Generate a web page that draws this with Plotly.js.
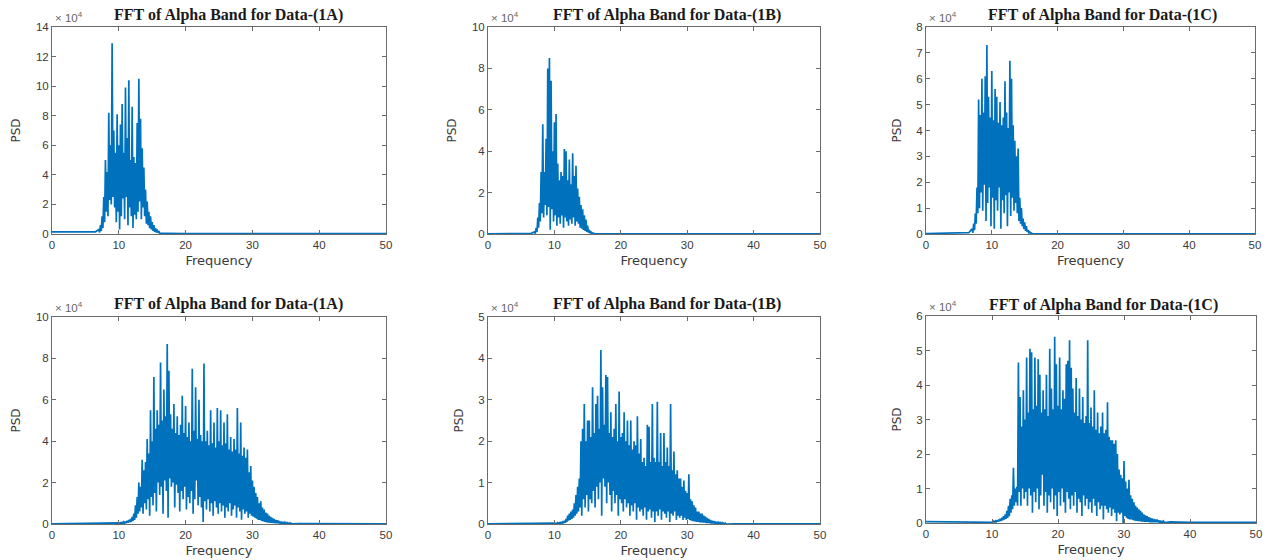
<!DOCTYPE html>
<html>
<head>
<meta charset="utf-8">
<script src="https://cdn.plot.ly/plotly-3.0.1.min.js"></script>
<style>html,body{margin:0;padding:0;background:#fff;}#chart{width:1273px;height:560px;}</style>
</head>
<body>
<div id="chart"></div>
<script>
// ---------- DATA (PSD values in units of 10^4) ----------
const panelTitles = ["FFT of Alpha Band for Data-(1A)", "FFT of Alpha Band for Data-(1B)", "FFT of Alpha Band for Data-(1C)",
                     "FFT of Alpha Band for Data-(1A)", "FFT of Alpha Band for Data-(1B)", "FFT of Alpha Band for Data-(1C)"];
const xLabel = "Frequency";
const yLabel = "PSD";
const yMax = [14, 10, 8, 10, 5, 6];
const yStep = [2, 2, 1, 2, 1, 1];
const xTicks = [0, 10, 20, 30, 40, 50];

// Frequency grid of the dense band: start (Hz) and bin step (Hz)
const topStart = 7.0, bottomStart = 10.0, binStep = 0.25;

// Top row (alpha band 7-16 Hz): peak (hi) and trough (lo) values per bin
const top1A_hi = [0.3,0.6,1.2,2.5,5.0,4.2,8.2,6.0,12.9,7.0,5.5,8.1,6.0,7.4,8.8,5.5,9.9,6.5,10.4,5.0,8.6,5.2,4.8,7.5,10.5,7.8,5.8,4.5,3.0,2.2,1.5,1.2,0.8,0.6,0.4,0.3,0.2];
const top1A_lo = [0.1,0.2,0.4,0.8,1.5,1.2,2.3,2.0,2.5,1.8,0.8,1.5,0.3,1.2,2.4,1.0,2.5,0.6,1.8,1.2,0.4,1.3,1.0,1.5,2.2,1.0,1.8,1.2,0.7,0.6,0.4,0.3,0.2,0.15,0.1,0.08,0.05];
const top1B_hi = [0.1,0.3,0.8,1.5,3.0,5.3,3.0,4.6,8.0,8.5,7.4,4.0,5.4,5.8,3.4,2.6,3.0,2.8,4.1,4.0,2.6,3.6,2.4,3.9,2.8,3.3,2.2,1.8,1.4,1.2,0.9,0.7,0.4,0.2,0.1,0.05,0.03];
const top1B_lo = [0.02,0.1,0.3,0.6,1.0,0.8,1.4,0.9,1.3,0.2,1.2,0.6,0.9,0.4,0.8,0.5,0.9,0.3,0.8,0.6,0.4,0.7,0.5,0.8,0.4,0.6,0.5,0.3,0.25,0.2,0.15,0.1,0.06,0.04,0.02,0.01,0.01];
const top1C_hi = [0.2,0.4,0.8,1.8,5.2,4.6,6.0,4.7,6.1,7.3,5.3,4.5,6.3,4.4,5.6,5.3,4.3,5.1,4.2,4.5,5.9,4.7,4.1,6.7,6.0,4.2,3.6,3.0,3.3,1.4,1.0,0.6,0.45,0.3,0.15,0.08,0.04];
const top1C_lo = [0.05,0.15,0.4,0.8,1.0,1.6,0.9,1.9,0.5,1.2,1.8,0.3,1.4,0.2,1.3,0.9,1.8,0.2,1.3,0.8,1.5,0.3,1.6,0.7,1.4,0.9,1.2,0.8,0.5,0.4,0.3,0.2,0.12,0.08,0.05,0.03,0.02];

// Bottom row (10-36 Hz)
const bot1A_hi = [0.05,0.06,0.08,0.1,0.12,0.15,0.2,0.25,0.35,0.5,0.9,1.3,2.0,1.8,3.1,2.6,3.0,4.1,3.4,5.5,4.0,7.1,4.6,5.5,4.8,7.8,5.0,6.5,5.2,8.7,7.4,5.3,4.6,5.8,4.4,5.2,4.3,4.8,6.2,4.4,5.7,4.2,4.9,4.0,7.5,4.5,6.6,4.1,6.0,4.3,4.0,7.75,4.0,4.5,3.8,5.5,3.9,4.9,3.7,5.6,4.0,5.5,3.8,4.9,3.9,5.3,3.6,4.2,3.5,4.1,3.6,5.6,3.4,4.9,3.3,3.7,3.2,3.6,2.5,2.8,2.1,1.8,1.5,1.3,1.0,1.1,0.8,0.7,0.55,0.5,0.4,0.35,0.3,0.25,0.2,0.18,0.15,0.12,0.1,0.08,0.07,0.06,0.05,0.04,0.03];
const bot1A_lo = [0.01,0.02,0.03,0.04,0.05,0.06,0.08,0.1,0.15,0.2,0.3,0.5,0.6,0.8,0.5,1.0,0.7,1.2,0.4,1.3,0.9,1.5,0.6,2.0,1.4,1.8,0.5,2.1,1.6,0.3,2.2,1.8,2.0,0.8,1.9,1.5,0.6,1.6,1.2,1.8,0.7,1.3,1.0,1.6,0.5,1.2,2.1,0.9,1.3,0.8,0.1,1.1,0.7,1.2,0.6,1.0,0.4,1.1,0.8,0.5,1.0,0.6,0.9,0.3,0.8,0.6,1.0,0.4,0.7,0.9,0.3,0.8,0.6,0.2,0.7,0.5,0.6,0.3,0.5,0.4,0.35,0.3,0.25,0.2,0.2,0.15,0.12,0.1,0.08,0.07,0.06,0.05,0.04,0.04,0.03,0.03,0.02,0.02,0.02,0.01,0.01,0.01,0.01,0.01,0.01];
const bot1B_hi = [0.02,0.02,0.03,0.03,0.04,0.05,0.08,0.12,0.2,0.25,0.3,0.35,0.5,0.7,0.9,1.1,2.0,2.3,2.9,2.0,2.5,2.5,2.1,3.3,2.2,2.9,3.1,2.3,4.2,3.3,2.4,3.6,3.55,2.2,2.7,2.1,2.3,2.9,2.0,3.2,2.1,2.2,2.7,2.0,2.5,1.9,2.5,1.8,2.0,1.9,2.6,1.7,2.05,1.5,1.6,1.4,2.4,2.35,1.5,2.9,1.6,1.5,2.95,1.5,2.2,1.4,2.2,1.5,1.85,1.4,2.9,1.3,1.75,1.2,1.3,1.1,1.1,0.9,1.05,0.8,0.75,1.2,0.6,0.55,0.45,0.4,0.3,0.3,0.25,0.25,0.2,0.18,0.15,0.12,0.1,0.08,0.07,0.06,0.05,0.04,0.03,0.03,0.02,0.02,0.01];
const bot1B_lo = [0.0,0.01,0.01,0.01,0.02,0.02,0.03,0.05,0.08,0.1,0.12,0.15,0.2,0.25,0.3,0.4,0.2,0.6,0.4,0.7,0.3,0.6,0.5,0.8,0.4,0.9,0.6,1.0,0.2,1.1,0.9,0.5,1.0,0.7,0.3,0.8,0.5,0.7,0.2,0.6,0.5,0.3,0.6,0.4,0.5,0.2,0.45,0.3,0.5,0.1,0.4,0.3,0.35,0.2,0.4,0.1,0.3,0.35,0.15,0.3,0.05,0.3,0.2,0.35,0.1,0.3,0.25,0.15,0.3,0.05,0.25,0.2,0.3,0.1,0.2,0.15,0.2,0.1,0.15,0.1,0.12,0.1,0.08,0.07,0.06,0.05,0.05,0.04,0.04,0.03,0.03,0.02,0.02,0.02,0.01,0.01,0.01,0.01,0.01,0.0,0.0,0.0,0.0,0.0,0.0];
const bot1C_hi = [0.04,0.05,0.06,0.08,0.1,0.12,0.15,0.2,0.25,0.35,0.5,0.7,0.8,1.6,1.0,1.05,4.65,3.65,2.8,3.85,3.0,4.8,3.2,5.05,4.95,3.3,4.8,3.4,4.75,4.3,3.2,3.85,3.3,4.3,3.1,5.05,3.9,3.3,5.4,4.6,3.4,4.8,3.3,3.85,3.6,4.6,4.7,5.3,4.5,3.9,3.2,4.2,3.1,3.9,3.0,3.65,2.9,3.1,5.3,2.9,3.35,2.8,3.85,2.7,3.2,2.6,2.8,3.2,2.6,2.7,3.5,2.5,2.4,2.4,2.3,2.4,2.0,1.55,1.4,1.3,1.8,1.2,1.0,1.25,0.8,0.7,0.6,0.5,0.45,0.4,0.35,0.3,0.25,0.22,0.2,0.17,0.15,0.13,0.12,0.1,0.1,0.08,0.07,0.06,0.05];
const bot1C_lo = [0.02,0.03,0.03,0.04,0.05,0.06,0.08,0.1,0.12,0.15,0.2,0.3,0.4,0.5,0.6,0.5,0.9,0.5,1.0,0.7,0.9,0.5,1.0,0.8,0.3,0.9,0.6,1.0,0.4,0.8,1.4,0.5,0.9,0.3,0.8,0.6,1.0,0.4,0.8,0.2,0.9,0.5,1.0,0.6,0.3,0.9,0.7,0.4,0.8,0.5,0.9,0.3,0.7,0.6,0.2,0.8,0.5,0.7,0.4,0.6,0.3,0.7,0.5,0.2,0.6,0.4,0.5,0.1,0.5,0.4,0.3,0.45,0.2,0.4,0.3,0.05,0.3,0.25,0.3,0.0,0.2,0.15,0.12,0.1,0.1,0.08,0.07,0.06,0.05,0.05,0.04,0.04,0.03,0.03,0.03,0.02,0.02,0.02,0.02,0.02,0.02,0.01,0.01,0.01,0.01];

// Low-level floor outside the dense band: [frequency], [value]
const lead_f = [[0, 5, 5.2, 6.5], [0, 6.5], [0, 6.5], [0, 9.0], [0, 9.5], [0, 9.5]];
const lead_v = [[0.15, 0.15, 0.1, 0.15], [0.01, 0.03], [0.02, 0.05], [0.01, 0.03], [0.005, 0.01], [0.04, 0.03]];
const trail_f = [[17, 20, 50], [17, 50], [17, 50], [37, 50], [37, 50], [37, 40, 50]];
const trail_v = [[0.05, 0.02, 0.02], [0.01, 0.01], [0.01, 0.01], [0.02, 0.01], [0.005, 0.005], [0.03, 0.02, 0.02]];

// ---------- BUILD ----------
const series = [
  {start: topStart, hi: top1A_hi, lo: top1A_lo},
  {start: topStart, hi: top1B_hi, lo: top1B_lo},
  {start: topStart, hi: top1C_hi, lo: top1C_lo},
  {start: bottomStart, hi: bot1A_hi, lo: bot1A_lo},
  {start: bottomStart, hi: bot1B_hi, lo: bot1B_lo},
  {start: bottomStart, hi: bot1C_hi, lo: bot1C_lo}
];

const W = 1273, H = 560;
const boxes = [ // plot areas in pixels [x0, x1, yTop, yBottom]
  [52, 386, 27, 234], [488, 820, 27, 234], [926, 1255, 27, 234],
  [52, 386, 317, 524], [488, 820, 317, 524], [926, 1256, 316, 523]
];
const titleY = [15, 15, 15, 304, 304, 305];
const titleDx = [10, 13, 12, 10, 13, 12];

const blue = '#0072BD';
const traces = [];
const layout = {
  width: W, height: H,
  margin: {l: 0, r: 0, t: 0, b: 0},
  paper_bgcolor: '#fff', plot_bgcolor: '#fff',
  showlegend: false,
  annotations: []
};

series.forEach((s, k) => {
  const x = [], y = [];
  lead_f[k].forEach((f, i) => { x.push(f); y.push(lead_v[k][i]); });
  for (let i = 0; i < s.hi.length; i++) {
    const f = s.start + i * binStep;
    x.push(f); y.push(s.hi[i]);
    x.push(f + binStep / 2); y.push(s.lo[i]);
  }
  trail_f[k].forEach((f, i) => { x.push(f); y.push(trail_v[k][i]); });
  const ax = k === 0 ? '' : String(k + 1);
  traces.push({
    type: 'scatter', mode: 'lines', x: x, y: y,
    xaxis: 'x' + ax, yaxis: 'y' + ax,
    line: {color: blue, width: 1.7},
    hoverinfo: 'skip'
  });

  const b = boxes[k];
  const yt = [];
  for (let v = 0; v <= yMax[k] + 1e-9; v += yStep[k]) yt.push(Math.round(v * 10) / 10);
  const common = {
    showgrid: false, zeroline: false, showline: true, linecolor: '#6b6b6b', linewidth: 1,
    mirror: 'ticks', ticks: 'inside', ticklen: 4, tickcolor: '#6b6b6b', tickwidth: 1,
    tickfont: {family: 'Liberation Sans, Arial, sans-serif', size: 11.5, color: '#3a3a3a'},
    fixedrange: true
  };
  layout['xaxis' + ax] = Object.assign({}, common, {
    domain: [b[0] / W, b[1] / W], anchor: 'y' + ax, range: [0, 50],
    tickvals: xTicks, ticktext: xTicks.map(String),
    title: {text: xLabel, standoff: 6, font: {family: 'DejaVu Sans, sans-serif', size: 13, color: '#3a3a3a'}}
  });
  layout['yaxis' + ax] = Object.assign({}, common, {
    domain: [1 - b[3] / H, 1 - b[2] / H], anchor: 'x' + ax, range: [0, yMax[k]],
    tickvals: yt, ticktext: yt.map(String),
    title: {text: yLabel, standoff: 12, font: {family: 'DejaVu Sans, sans-serif', size: 12, color: '#3a3a3a'}}
  });
  layout.annotations.push({
    xref: 'paper', yref: 'paper',
    x: ((b[0] + b[1]) / 2 + titleDx[k]) / W, y: 1 - titleY[k] / H,
    xanchor: 'center', yanchor: 'middle', showarrow: false,
    text: '<b>' + panelTitles[k] + '</b>',
    font: {family: 'Liberation Serif, Times New Roman, serif', size: 16, color: '#1a1a1a'}
  });
  layout.annotations.push({
    xref: 'paper', yref: 'paper',
    x: (b[0] + 1) / W, y: 1 - (b[2] - 1) / H,
    xanchor: 'left', yanchor: 'bottom', showarrow: false,
    text: '\u00d7 10<sup>4</sup>',
    font: {family: 'Liberation Sans, Arial, sans-serif', size: 11.5, color: '#666'}
  });
});

Plotly.newPlot('chart', traces, layout, {displayModeBar: false, staticPlot: true});
</script>
</body>
</html>
